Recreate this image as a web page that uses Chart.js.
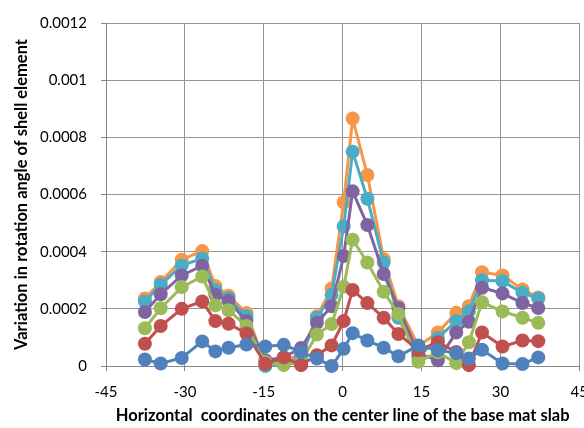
<!DOCTYPE html>
<html>
<head>
<meta charset="utf-8">
<script src="https://cdn.jsdelivr.net/npm/chart.js@4"></script>
<style>
html,body{margin:0;padding:0;overflow:hidden;background:#fff;}
#wrap{width:600px;height:428px;}
</style>
</head>
<body>
<div id="wrap"><canvas id="c" width="600" height="428"></canvas></div>
<script>
const xCoords = [-37.6,-34.6,-30.6,-26.7,-24.2,-21.7,-18.3,-14.7,-11.2,-7.9,-4.9,-2.1,0.2,1.9,4.7,7.8,10.6,14.4,18.1,21.6,24.0,26.5,30.4,34.2,37.2];
const seriesBlue   = [0.000023,0.000009,0.000028,0.000086,0.000051,0.000064,0.000075,0.000068,0.000074,0.000049,0.000026,0.000000,0.000060,0.000115,0.000089,0.000064,0.000034,0.000072,0.000055,0.000045,0.000026,0.000057,0.000009,0.000007,0.000030];
const seriesRed    = [0.000078,0.000140,0.000200,0.000226,0.000157,0.000148,0.000114,0.000007,0.000030,0.000003,0.000038,0.000072,0.000157,0.000266,0.000220,0.000169,0.000112,0.000055,0.000083,0.000049,0.000003,0.000117,0.000068,0.000089,0.000087];
const seriesGreen  = [0.000132,0.000202,0.000276,0.000313,0.000212,0.000195,0.000140,0.000014,0.000003,0.000014,0.000110,0.000147,0.000277,0.000442,0.000362,0.000260,0.000182,0.000015,0.000048,0.000010,0.000083,0.000223,0.000191,0.000169,0.000151];
const seriesPurple = [0.000189,0.000251,0.000317,0.000351,0.000249,0.000228,0.000157,0.000020,0.000030,0.000063,0.000151,0.000209,0.000385,0.000611,0.000493,0.000322,0.000203,0.000043,0.000020,0.000117,0.000155,0.000274,0.000254,0.000220,0.000203];
const seriesCyan   = [0.000226,0.000284,0.000352,0.000376,0.000265,0.000237,0.000174,0.000000,0.000010,0.000030,0.000169,0.000249,0.000488,0.000750,0.000585,0.000362,0.000169,0.000030,0.000098,0.000157,0.000191,0.000300,0.000297,0.000256,0.000236];
const seriesOrange = [0.000236,0.000294,0.000372,0.000402,0.000280,0.000246,0.000185,0.000010,0.000020,0.000040,0.000174,0.000271,0.000573,0.000866,0.000668,0.000374,0.000209,0.000070,0.000117,0.000186,0.000209,0.000328,0.000317,0.000268,0.000240];
const xTickValues = [-45,-30,-15,0,15,30,45];
const yTickLabels = ['0','0.0002','0.0004','0.0006','0.0008','0.001','0.0012'];
const yTickValues = [0,0.0002,0.0004,0.0006,0.0008,0.001,0.0012];
const xTitle = 'Horizontal  coordinates on the center line of the base mat slab';
const yTitle = 'Variation in rotation angle of shell element';

const colors = ['#4F81BD','#C0504D','#9BBB59','#8064A2','#4BACC6','#F79646'];
const allSeries = [seriesBlue,seriesRed,seriesGreen,seriesPurple,seriesCyan,seriesOrange];

const datasets = allSeries.map((s,i)=>({
  data: s.map((v,k)=>({x:xCoords[k], y:v})),
  borderColor: colors[i],
  backgroundColor: colors[i],
  pointBackgroundColor: colors[i],
  pointBorderColor: colors[i],
  pointRadius: 7,
  pointBorderWidth: 0,
  borderWidth: 3,
  showLine: true,
  tension: 0,
  clip: false
}));

const fontFam = 'Lato, "Liberation Sans", sans-serif';

new Chart(document.getElementById('c'), {
  type: 'scatter',
  data: { datasets },
  options: {
    responsive: false,
    animation: false,
    events: [],
    layout: { padding: { top: 15, right: 18, left: 0, bottom: 0 } },
    plugins: { legend: { display: false }, tooltip: { enabled: false } },
    scales: {
      x: {
        type: 'linear',
        min: -45, max: 45,
        afterBuildTicks: (s) => { s.ticks = xTickValues.map(v=>({value:v})); },
        afterFit: (s) => { s.height = 62; },
        grid: { color: '#959595', lineWidth: 1, tickLength: 5, tickColor: '#868686' },
        border: { color: '#868686', width: 1 },
        ticks: { color: '#000', font: { family: fontFam, size: 15 }, padding: 12, maxRotation: 0, autoSkip: false },
        title: { display: true, text: xTitle, color: '#000', font: { family: fontFam, size: 16.5, weight: 'bold' }, padding: { top: 0, bottom: 2 } }
      },
      y: {
        type: 'linear',
        min: 0, max: 0.0012,
        afterBuildTicks: (s) => { s.ticks = yTickValues.map(v=>({value:v})); },
        afterFit: (s) => { s.width = 106; },
        grid: { color: '#959595', lineWidth: 1, tickLength: 5, tickColor: '#868686' },
        border: { color: '#868686', width: 1 },
        ticks: { color: '#000', font: { family: fontFam, size: 15 }, padding: 14,
          callback: (v) => { const i = yTickValues.findIndex(t => Math.abs(t - v) < 1e-9); return i >= 0 ? yTickLabels[i] : ''; } },
        title: { display: true, text: yTitle, color: '#000', font: { family: fontFam, size: 16.5, weight: 'bold' }, padding: { top: 12, bottom: 0 } }
      }
    }
  }
});
</script>
</body>
</html>
